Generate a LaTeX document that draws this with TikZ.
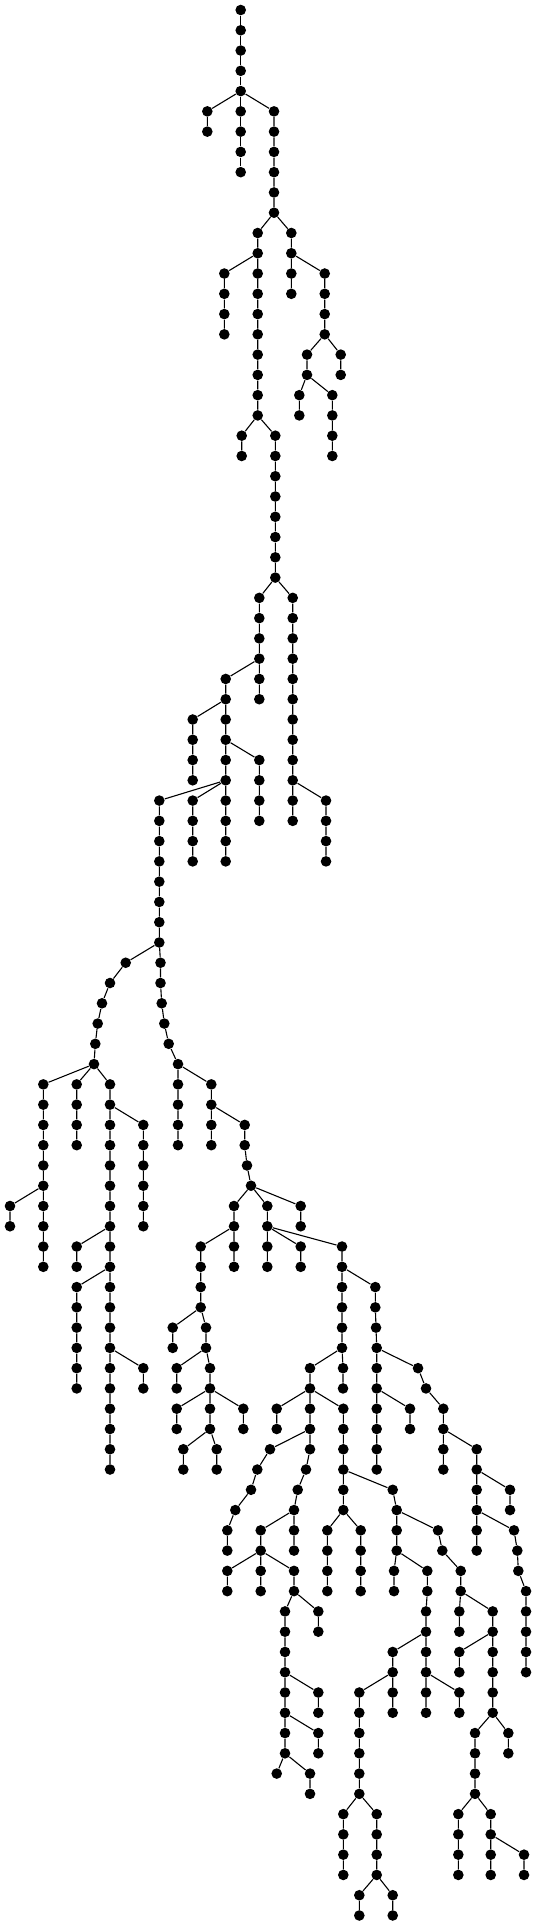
\documentclass[tikz,border=0pt]{standalone}
\usepackage{tikz}
\begin{document}
\begin{tikzpicture}[
  x=0.5pt,y=-10.135pt,
  dot/.style={circle,fill=black,inner sep=0pt,minimum size=5.3pt},
  edge/.style={line width=0.55pt,draw=black}
]
\useasboundingbox (0,-0.4934) rectangle (536,94.47);

\node[dot] (v0-241) at (240.7,0) {};
\node[dot] (v1-241) at (240.7,1) {};
\node[dot] (v2-241) at (240.7,2) {};
\node[dot] (v3-241) at (240.7,3) {};
\node[dot] (v4-241) at (240.7,4) {};
\node[dot] (v5-241) at (240.7,5) {};
\node[dot] (v6-241) at (240.7,6) {};
\node[dot] (v7-241) at (240.7,7) {};
\node[dot] (v8-241) at (240.7,8) {};
\node[dot] (v5-207) at (207.3,5) {};
\node[dot] (v6-207) at (207.3,6) {};
\node[dot] (v5-274) at (274,5) {};
\node[dot] (v6-274) at (274,6) {};
\node[dot] (v7-274) at (274,7) {};
\node[dot] (v8-274) at (274,8) {};
\node[dot] (v9-274) at (274,9) {};
\node[dot] (v10-274) at (274,10) {};
\node[dot] (v11-258) at (257.7,11) {};
\node[dot] (v12-258) at (257.7,12) {};
\node[dot] (v13-258) at (257.7,13) {};
\node[dot] (v14-258) at (257.7,14) {};
\node[dot] (v15-258) at (257.7,15) {};
\node[dot] (v16-258) at (257.7,16) {};
\node[dot] (v17-258) at (257.7,17) {};
\node[dot] (v18-258) at (257.7,18) {};
\node[dot] (v19-258) at (257.7,19) {};
\node[dot] (v20-258) at (257.7,20) {};
\node[dot] (v13-224) at (224.3,13) {};
\node[dot] (v14-224) at (224.3,14) {};
\node[dot] (v15-224) at (224.3,15) {};
\node[dot] (v16-224) at (224.3,16) {};
\node[dot] (v21-242) at (241.7,21) {};
\node[dot] (v22-242) at (241.7,22) {};
\node[dot] (v21-275) at (275.3,21) {};
\node[dot] (v22-275) at (275.3,22) {};
\node[dot] (v23-275) at (275.3,23) {};
\node[dot] (v24-275) at (275.3,24) {};
\node[dot] (v25-275) at (275.3,25) {};
\node[dot] (v26-275) at (275.3,26) {};
\node[dot] (v27-275) at (275.3,27) {};
\node[dot] (v28-275) at (275.3,28) {};
\node[dot] (v29-259) at (259.3,29) {};
\node[dot] (v30-259) at (259.3,30) {};
\node[dot] (v31-259) at (259.3,31) {};
\node[dot] (v32-259) at (259.3,32) {};
\node[dot] (v33-259) at (259.3,33) {};
\node[dot] (v34-259) at (259.3,34) {};
\node[dot] (v33-226) at (225.7,33) {};
\node[dot] (v34-226) at (225.7,34) {};
\node[dot] (v35-226) at (225.7,35) {};
\node[dot] (v36-226) at (225.7,36) {};
\node[dot] (v37-226) at (225.7,37) {};
\node[dot] (v38-226) at (225.7,38) {};
\node[dot] (v39-226) at (225.7,39) {};
\node[dot] (v40-226) at (225.7,40) {};
\node[dot] (v41-226) at (225.7,41) {};
\node[dot] (v42-226) at (225.7,42) {};
\node[dot] (v35-193) at (192.7,35) {};
\node[dot] (v36-193) at (192.7,36) {};
\node[dot] (v37-193) at (192.7,37) {};
\node[dot] (v38-193) at (192.7,38) {};
\node[dot] (v37-259) at (259.3,37) {};
\node[dot] (v38-259) at (259.3,38) {};
\node[dot] (v39-259) at (259.3,39) {};
\node[dot] (v40-259) at (259.3,40) {};
\node[dot] (v39-193) at (192.7,39) {};
\node[dot] (v40-193) at (192.7,40) {};
\node[dot] (v41-193) at (192.7,41) {};
\node[dot] (v42-193) at (192.7,42) {};
\node[dot] (v39-159) at (159.3,39) {};
\node[dot] (v40-159) at (159.3,40) {};
\node[dot] (v41-159) at (159.3,41) {};
\node[dot] (v42-159) at (159.3,42) {};
\node[dot] (v43-159) at (159.3,43) {};
\node[dot] (v44-159) at (159.3,44) {};
\node[dot] (v45-159) at (159.3,45) {};
\node[dot] (v46-159) at (159.3,46) {};
\node[dot] (v29-293) at (292.7,29) {};
\node[dot] (v30-293) at (292.7,30) {};
\node[dot] (v31-293) at (292.7,31) {};
\node[dot] (v32-293) at (292.7,32) {};
\node[dot] (v33-293) at (292.7,33) {};
\node[dot] (v34-293) at (292.7,34) {};
\node[dot] (v35-293) at (292.7,35) {};
\node[dot] (v36-293) at (292.7,36) {};
\node[dot] (v37-293) at (292.7,37) {};
\node[dot] (v38-293) at (292.7,38) {};
\node[dot] (v39-293) at (292.7,39) {};
\node[dot] (v40-293) at (292.7,40) {};
\node[dot] (v39-326) at (326,39) {};
\node[dot] (v40-326) at (326,40) {};
\node[dot] (v41-326) at (326,41) {};
\node[dot] (v42-326) at (326,42) {};
\node[dot] (v11-291) at (291.3,11) {};
\node[dot] (v12-291) at (291.3,12) {};
\node[dot] (v13-291) at (291.3,13) {};
\node[dot] (v14-291) at (291.3,14) {};
\node[dot] (v13-325) at (324.7,13) {};
\node[dot] (v14-325) at (324.7,14) {};
\node[dot] (v15-325) at (324.7,15) {};
\node[dot] (v16-325) at (324.7,16) {};
\node[dot] (v17-341) at (340.7,17) {};
\node[dot] (v18-341) at (340.7,18) {};
\node[dot] (v17-307) at (307,17) {};
\node[dot] (v18-307) at (307,18) {};
\node[dot] (v19-299) at (299.3,19) {};
\node[dot] (v20-299) at (299.3,20) {};
\node[dot] (v19-332) at (332.3,19) {};
\node[dot] (v20-332) at (332.3,20) {};
\node[dot] (v21-332) at (332.3,21) {};
\node[dot] (v22-332) at (332.3,22) {};

\node[dot] (v47-126) at (125.7,47) {};
\node[dot] (v48-110) at (110,48) {};
\node[dot] (v49-102) at (102,49) {};
\node[dot] (v50-98) at (97.7,50) {};
\node[dot] (v51-95) at (95.3,51) {};
\node[dot] (v52-94) at (94,52) {};
\node[dot] (v53-43) at (43.3,53) {};
\node[dot] (v54-43) at (43.3,54) {};
\node[dot] (v55-43) at (43.3,55) {};
\node[dot] (v56-43) at (43.3,56) {};
\node[dot] (v57-43) at (43.3,57) {};
\node[dot] (v58-43) at (43.3,58) {};
\node[dot] (v59-43) at (43.3,59) {};
\node[dot] (v60-43) at (43.3,60) {};
\node[dot] (v61-43) at (43.3,61) {};
\node[dot] (v62-43) at (43.3,62) {};
\node[dot] (v59-10) at (10,59) {};
\node[dot] (v60-10) at (10,60) {};
\node[dot] (v53-77) at (76.7,53) {};
\node[dot] (v54-77) at (76.7,54) {};
\node[dot] (v55-77) at (76.7,55) {};
\node[dot] (v56-77) at (76.7,56) {};
\node[dot] (v53-110) at (110,53) {};
\node[dot] (v54-110) at (110,54) {};
\node[dot] (v55-110) at (110,55) {};
\node[dot] (v56-110) at (110,56) {};
\node[dot] (v57-110) at (110,57) {};
\node[dot] (v58-110) at (110,58) {};
\node[dot] (v59-110) at (110,59) {};
\node[dot] (v60-110) at (110,60) {};
\node[dot] (v61-110) at (110,61) {};
\node[dot] (v62-110) at (110,62) {};
\node[dot] (v63-110) at (110,63) {};
\node[dot] (v64-110) at (110,64) {};
\node[dot] (v65-110) at (110,65) {};
\node[dot] (v66-110) at (110,66) {};
\node[dot] (v67-110) at (110,67) {};
\node[dot] (v68-110) at (110,68) {};
\node[dot] (v69-110) at (110,69) {};
\node[dot] (v70-110) at (110,70) {};
\node[dot] (v71-110) at (110,71) {};
\node[dot] (v72-110) at (110,72) {};
\node[dot] (v55-143) at (143.3,55) {};
\node[dot] (v56-143) at (143.3,56) {};
\node[dot] (v57-143) at (143.3,57) {};
\node[dot] (v58-143) at (143.3,58) {};
\node[dot] (v59-143) at (143.3,59) {};
\node[dot] (v60-143) at (143.3,60) {};
\node[dot] (v61-77) at (76.7,61) {};
\node[dot] (v62-77) at (76.7,62) {};
\node[dot] (v63-77) at (76.7,63) {};
\node[dot] (v64-77) at (76.7,64) {};
\node[dot] (v65-77) at (76.7,65) {};
\node[dot] (v66-77) at (76.7,66) {};
\node[dot] (v67-77) at (76.7,67) {};
\node[dot] (v68-77) at (76.7,68) {};
\node[dot] (v67-143) at (143.3,67) {};
\node[dot] (v68-143) at (143.3,68) {};

\node[dot] (v47-160) at (160.5,47) {};
\node[dot] (v48-160) at (160.5,48) {};
\node[dot] (v49-162) at (161.7,49) {};
\node[dot] (v50-164) at (164.3,50) {};
\node[dot] (v51-169) at (168.7,51) {};
\node[dot] (v52-178) at (178,52) {};
\node[dot] (v53-178) at (178,53) {};
\node[dot] (v54-178) at (178,54) {};
\node[dot] (v55-178) at (178,55) {};
\node[dot] (v56-178) at (178,56) {};
\node[dot] (v53-211) at (211.3,53) {};
\node[dot] (v54-211) at (211.3,54) {};
\node[dot] (v55-211) at (211.3,55) {};
\node[dot] (v56-211) at (211.3,56) {};
\node[dot] (v55-245) at (244.7,55) {};
\node[dot] (v56-245) at (244.7,56) {};
\node[dot] (v57-247) at (247,57) {};
\node[dot] (v58-251) at (251,58) {};
\node[dot] (v59-234) at (234,59) {};
\node[dot] (v60-234) at (234,60) {};
\node[dot] (v61-234) at (234,61) {};
\node[dot] (v62-234) at (234,62) {};
\node[dot] (v59-267) at (267.3,59) {};
\node[dot] (v60-267) at (267.3,60) {};
\node[dot] (v61-267) at (267.3,61) {};
\node[dot] (v62-267) at (267.3,62) {};
\node[dot] (v59-301) at (300.7,59) {};
\node[dot] (v60-301) at (300.7,60) {};
\node[dot] (v61-301) at (300.7,61) {};
\node[dot] (v62-301) at (300.7,62) {};
\node[dot] (v61-201) at (200.7,61) {};
\node[dot] (v62-201) at (200.7,62) {};
\node[dot] (v63-201) at (200.7,63) {};
\node[dot] (v64-201) at (200.7,64) {};
\node[dot] (v65-173) at (172.7,65) {};
\node[dot] (v66-173) at (172.7,66) {};
\node[dot] (v65-206) at (206,65) {};
\node[dot] (v66-206) at (206,66) {};
\node[dot] (v67-177) at (176.7,67) {};
\node[dot] (v68-177) at (176.7,68) {};
\node[dot] (v67-210) at (210,67) {};
\node[dot] (v68-210) at (210,68) {};
\node[dot] (v69-210) at (210,69) {};
\node[dot] (v70-210) at (210,70) {};
\node[dot] (v69-177) at (176.7,69) {};
\node[dot] (v70-177) at (176.7,70) {};
\node[dot] (v69-243) at (243.3,69) {};
\node[dot] (v70-243) at (243.3,70) {};
\node[dot] (v71-183) at (183.3,71) {};
\node[dot] (v72-183) at (183.3,72) {};
\node[dot] (v71-217) at (216.7,71) {};
\node[dot] (v72-217) at (216.7,72) {};

\node[dot] (v61-342) at (342,61) {};
\node[dot] (v62-342) at (342,62) {};
\node[dot] (v63-342) at (342,63) {};
\node[dot] (v64-342) at (342,64) {};
\node[dot] (v65-342) at (342,65) {};
\node[dot] (v66-342) at (342,66) {};
\node[dot] (v67-343) at (343,67) {};
\node[dot] (v68-343) at (343,68) {};
\node[dot] (v67-310) at (310,67) {};
\node[dot] (v68-310) at (310,68) {};
\node[dot] (v69-310) at (310,69) {};
\node[dot] (v70-310) at (310,70) {};
\node[dot] (v71-310) at (310,71) {};
\node[dot] (v69-277) at (276.7,69) {};
\node[dot] (v70-277) at (276.7,70) {};
\node[dot] (v69-343) at (343.3,69) {};
\node[dot] (v70-343) at (343.3,70) {};
\node[dot] (v71-343) at (343.3,71) {};
\node[dot] (v72-343) at (343.3,72) {};
\node[dot] (v73-343) at (343.3,73) {};
\node[dot] (v74-343) at (343.3,74) {};
\node[dot] (v71-270) at (270,71) {};
\node[dot] (v72-257) at (257.3,72) {};
\node[dot] (v73-251) at (251,73) {};
\node[dot] (v74-235) at (235.3,74) {};
\node[dot] (v75-227) at (227.3,75) {};
\node[dot] (v76-227) at (227.3,76) {};
\node[dot] (v72-306) at (306,72) {};
\node[dot] (v73-298) at (297.7,73) {};
\node[dot] (v74-294) at (294,74) {};
\node[dot] (v75-294) at (294,75) {};
\node[dot] (v76-294) at (294,76) {};
\node[dot] (v75-261) at (260.7,75) {};
\node[dot] (v76-261) at (260.7,76) {};
\node[dot] (v77-261) at (260.7,77) {};
\node[dot] (v78-261) at (260.7,78) {};
\node[dot] (v77-227) at (227.3,77) {};
\node[dot] (v78-227) at (227.3,78) {};
\node[dot] (v77-294) at (294,77) {};
\node[dot] (v78-294) at (294,78) {};
\node[dot] (v79-285) at (285,79) {};
\node[dot] (v80-285) at (285,80) {};
\node[dot] (v81-285) at (285,81) {};
\node[dot] (v82-285) at (285,82) {};
\node[dot] (v83-285) at (285,83) {};
\node[dot] (v84-285) at (285,84) {};
\node[dot] (v85-285) at (285,85) {};
\node[dot] (v86-285) at (285,86) {};
\node[dot] (v79-318) at (318.3,79) {};
\node[dot] (v80-318) at (318.3,80) {};
\node[dot] (v83-318) at (318.3,83) {};
\node[dot] (v84-318) at (318.3,84) {};
\node[dot] (v85-318) at (318.3,85) {};
\node[dot] (v86-318) at (318.3,86) {};
\node[dot] (v87-277) at (276.7,87) {};
\node[dot] (v87-310) at (310,87) {};
\node[dot] (v88-310) at (310,88) {};
\node[dot] (v75-327) at (327.3,75) {};
\node[dot] (v76-327) at (327.3,76) {};
\node[dot] (v77-327) at (327.3,77) {};
\node[dot] (v78-327) at (327.3,78) {};
\node[dot] (v75-361) at (360.7,75) {};
\node[dot] (v76-361) at (360.7,76) {};
\node[dot] (v77-361) at (360.7,77) {};
\node[dot] (v78-361) at (360.7,78) {};
\node[dot] (v73-393) at (392.7,73) {};
\node[dot] (v74-397) at (396.7,74) {};
\node[dot] (v75-397) at (396.7,75) {};
\node[dot] (v76-397) at (396.7,76) {};
\node[dot] (v77-394) at (394,77) {};
\node[dot] (v78-394) at (394,78) {};
\node[dot] (v77-427) at (427.3,77) {};
\node[dot] (v78-427) at (427.3,78) {};
\node[dot] (v79-426) at (426,79) {};
\node[dot] (v80-426) at (426,80) {};
\node[dot] (v81-426) at (426,81) {};
\node[dot] (v82-426) at (426,82) {};
\node[dot] (v83-426) at (426,83) {};
\node[dot] (v84-426) at (426,84) {};
\node[dot] (v81-393) at (392.7,81) {};
\node[dot] (v82-393) at (392.7,82) {};
\node[dot] (v83-393) at (392.7,83) {};
\node[dot] (v84-393) at (392.7,84) {};
\node[dot] (v83-459) at (459.3,83) {};
\node[dot] (v84-459) at (459.3,84) {};
\node[dot] (v83-359) at (359.3,83) {};
\node[dot] (v84-359) at (359.3,84) {};
\node[dot] (v85-359) at (359.3,85) {};
\node[dot] (v86-359) at (359.3,86) {};
\node[dot] (v87-359) at (359.3,87) {};
\node[dot] (v88-359) at (359.3,88) {};
\node[dot] (v89-343) at (343.3,89) {};
\node[dot] (v90-343) at (343.3,90) {};
\node[dot] (v91-343) at (343.3,91) {};
\node[dot] (v92-343) at (343.3,92) {};
\node[dot] (v89-377) at (376.7,89) {};
\node[dot] (v90-377) at (376.7,90) {};
\node[dot] (v91-377) at (376.7,91) {};
\node[dot] (v92-377) at (376.7,92) {};
\node[dot] (v93-359) at (359.3,93) {};
\node[dot] (v94-359) at (359.3,94) {};
\node[dot] (v93-393) at (392.7,93) {};
\node[dot] (v94-393) at (392.7,94) {};
\node[dot] (v75-438) at (438,75) {};
\node[dot] (v76-442) at (442.3,76) {};
\node[dot] (v77-461) at (460.7,77) {};
\node[dot] (v78-461) at (460.7,78) {};
\node[dot] (v79-459) at (459.3,79) {};
\node[dot] (v80-459) at (459.3,80) {};
\node[dot] (v79-493) at (492.7,79) {};
\node[dot] (v80-493) at (492.7,80) {};
\node[dot] (v81-493) at (492.7,81) {};
\node[dot] (v82-493) at (492.7,82) {};
\node[dot] (v83-493) at (492.7,83) {};
\node[dot] (v84-493) at (492.7,84) {};
\node[dot] (v81-459) at (459.3,81) {};
\node[dot] (v82-459) at (459.3,82) {};
\node[dot] (v85-475) at (475,85) {};
\node[dot] (v86-475) at (475,86) {};
\node[dot] (v87-475) at (475,87) {};
\node[dot] (v88-475) at (475,88) {};
\node[dot] (v85-508) at (508.3,85) {};
\node[dot] (v86-508) at (508.3,86) {};
\node[dot] (v89-458) at (458.3,89) {};
\node[dot] (v90-458) at (458.3,90) {};
\node[dot] (v91-458) at (458.3,91) {};
\node[dot] (v92-458) at (458.3,92) {};
\node[dot] (v89-491) at (490.7,89) {};
\node[dot] (v90-491) at (490.7,90) {};
\node[dot] (v91-491) at (490.7,91) {};
\node[dot] (v92-491) at (490.7,92) {};
\node[dot] (v91-524) at (524,91) {};
\node[dot] (v92-524) at (524,92) {};

\node[dot] (v63-375) at (375.3,63) {};
\node[dot] (v64-375) at (375.3,64) {};
\node[dot] (v65-376) at (376,65) {};
\node[dot] (v66-377) at (376.7,66) {};
\node[dot] (v67-377) at (376.7,67) {};
\node[dot] (v68-377) at (376.7,68) {};
\node[dot] (v69-377) at (376.7,69) {};
\node[dot] (v70-377) at (376.7,70) {};
\node[dot] (v71-377) at (376.7,71) {};
\node[dot] (v72-377) at (376.7,72) {};
\node[dot] (v69-410) at (410,69) {};
\node[dot] (v70-410) at (410,70) {};
\node[dot] (v67-418) at (418,67) {};
\node[dot] (v68-426) at (426,68) {};
\node[dot] (v69-443) at (443.3,69) {};
\node[dot] (v70-443) at (443.3,70) {};
\node[dot] (v71-443) at (443.3,71) {};
\node[dot] (v72-443) at (443.3,72) {};
\node[dot] (v71-477) at (476.7,71) {};
\node[dot] (v72-477) at (476.7,72) {};
\node[dot] (v73-477) at (476.7,73) {};
\node[dot] (v74-477) at (476.7,74) {};
\node[dot] (v75-477) at (476.7,75) {};
\node[dot] (v76-477) at (476.7,76) {};
\node[dot] (v73-510) at (510,73) {};
\node[dot] (v74-510) at (510,74) {};
\node[dot] (v75-514) at (514,75) {};
\node[dot] (v76-517) at (517.3,76) {};
\node[dot] (v77-518) at (518.3,77) {};
\node[dot] (v78-526) at (526,78) {};
\node[dot] (v79-526) at (526,79) {};
\node[dot] (v80-526) at (526,80) {};
\node[dot] (v81-526) at (526,81) {};
\node[dot] (v82-526) at (526,82) {};

\draw[edge] (v0-241) -- (v1-241) -- (v2-241) -- (v3-241) -- (v4-241) -- (v5-241) -- (v6-241) -- (v7-241) -- (v8-241);
\draw[edge] (v4-241) -- (v5-207) -- (v6-207);
\draw[edge] (v4-241) -- (v5-274) -- (v6-274) -- (v7-274) -- (v8-274) -- (v9-274) -- (v10-274);
\draw[edge] (v10-274) -- (v11-258) -- (v12-258) -- (v13-258) -- (v14-258) -- (v15-258) -- (v16-258) -- (v17-258) -- (v18-258) -- (v19-258) -- (v20-258);
\draw[edge] (v12-258) -- (v13-224) -- (v14-224) -- (v15-224) -- (v16-224);
\draw[edge] (v20-258) -- (v21-242) -- (v22-242);
\draw[edge] (v20-258) -- (v21-275) -- (v22-275) -- (v23-275) -- (v24-275) -- (v25-275) -- (v26-275) -- (v27-275) -- (v28-275);
\draw[edge] (v28-275) -- (v29-259) -- (v30-259) -- (v31-259) -- (v32-259) -- (v33-259) -- (v34-259);
\draw[edge] (v32-259) -- (v33-226) -- (v34-226) -- (v35-226) -- (v36-226) -- (v37-226) -- (v38-226) -- (v39-226) -- (v40-226) -- (v41-226) -- (v42-226);
\draw[edge] (v34-226) -- (v35-193) -- (v36-193) -- (v37-193) -- (v38-193);
\draw[edge] (v36-226) -- (v37-259) -- (v38-259) -- (v39-259) -- (v40-259);
\draw[edge] (v38-226) -- (v39-193) -- (v40-193) -- (v41-193) -- (v42-193);
\draw[edge] (v38-226) -- (v39-159) -- (v40-159) -- (v41-159) -- (v42-159) -- (v43-159) -- (v44-159) -- (v45-159) -- (v46-159);
\draw[edge] (v28-275) -- (v29-293) -- (v30-293) -- (v31-293) -- (v32-293) -- (v33-293) -- (v34-293) -- (v35-293) -- (v36-293) -- (v37-293) -- (v38-293) -- (v39-293) -- (v40-293);
\draw[edge] (v38-293) -- (v39-326) -- (v40-326) -- (v41-326) -- (v42-326);
\draw[edge] (v10-274) -- (v11-291) -- (v12-291) -- (v13-291) -- (v14-291);
\draw[edge] (v12-291) -- (v13-325) -- (v14-325) -- (v15-325) -- (v16-325);
\draw[edge] (v16-325) -- (v17-341) -- (v18-341);
\draw[edge] (v16-325) -- (v17-307) -- (v18-307) -- (v19-332) -- (v20-332) -- (v21-332) -- (v22-332);
\draw[edge] (v18-307) -- (v19-299) -- (v20-299);

\draw[edge] (v46-159) -- (v47-126) -- (v48-110) -- (v49-102) -- (v50-98) -- (v51-95) -- (v52-94) -- (v53-110) -- (v54-110) -- (v55-110) -- (v56-110) -- (v57-110) -- (v58-110) -- (v59-110) -- (v60-110) -- (v61-110) -- (v62-110) -- (v63-110) -- (v64-110) -- (v65-110) -- (v66-110) -- (v67-110) -- (v68-110) -- (v69-110) -- (v70-110) -- (v71-110) -- (v72-110);
\draw[edge] (v52-94) -- (v53-43) -- (v54-43) -- (v55-43) -- (v56-43) -- (v57-43) -- (v58-43) -- (v59-43) -- (v60-43) -- (v61-43) -- (v62-43);
\draw[edge] (v58-43) -- (v59-10) -- (v60-10);
\draw[edge] (v52-94) -- (v53-77) -- (v54-77) -- (v55-77) -- (v56-77);
\draw[edge] (v54-110) -- (v55-143) -- (v56-143) -- (v57-143) -- (v58-143) -- (v59-143) -- (v60-143);
\draw[edge] (v60-110) -- (v61-77) -- (v62-77);
\draw[edge] (v62-110) -- (v63-77) -- (v64-77) -- (v65-77) -- (v66-77) -- (v67-77) -- (v68-77);
\draw[edge] (v66-110) -- (v67-143) -- (v68-143);

\draw[edge] (v46-159) -- (v47-160) -- (v48-160) -- (v49-162) -- (v50-164) -- (v51-169) -- (v52-178) -- (v53-178) -- (v54-178) -- (v55-178) -- (v56-178);
\draw[edge] (v52-178) -- (v53-211) -- (v54-211) -- (v55-211) -- (v56-211);
\draw[edge] (v54-211) -- (v55-245) -- (v56-245) -- (v57-247) -- (v58-251) -- (v59-267) -- (v60-267) -- (v61-267) -- (v62-267);
\draw[edge] (v58-251) -- (v59-234) -- (v60-234) -- (v61-234) -- (v62-234);
\draw[edge] (v58-251) -- (v59-301) -- (v60-301);
\draw[edge] (v60-234) -- (v61-201) -- (v62-201) -- (v63-201) -- (v64-201) -- (v65-206) -- (v66-206) -- (v67-210) -- (v68-210) -- (v69-210) -- (v70-210);
\draw[edge] (v64-201) -- (v65-173) -- (v66-173);
\draw[edge] (v66-206) -- (v67-177) -- (v68-177);
\draw[edge] (v68-210) -- (v69-177) -- (v70-177);
\draw[edge] (v68-210) -- (v69-243) -- (v70-243);
\draw[edge] (v70-210) -- (v71-183) -- (v72-183);
\draw[edge] (v70-210) -- (v71-217) -- (v72-217);
\draw[edge] (v60-267) -- (v61-301) -- (v62-301);
\draw[edge] (v60-267) -- (v61-342) -- (v62-342) -- (v63-342) -- (v64-342) -- (v65-342) -- (v66-342);
\draw[edge] (v66-342) -- (v67-343) -- (v68-343);
\draw[edge] (v66-342) -- (v67-310) -- (v68-310) -- (v69-310) -- (v70-310) -- (v71-310) -- (v72-306) -- (v73-298) -- (v74-294) -- (v75-294) -- (v76-294);
\draw[edge] (v68-310) -- (v69-277) -- (v70-277);
\draw[edge] (v68-310) -- (v69-343) -- (v70-343) -- (v71-343) -- (v72-343) -- (v73-343) -- (v74-343);
\draw[edge] (v70-310) -- (v71-270) -- (v72-257) -- (v73-251) -- (v74-235) -- (v75-227) -- (v76-227);
\draw[edge] (v74-294) -- (v75-261) -- (v76-261) -- (v77-261) -- (v78-261);
\draw[edge] (v76-261) -- (v77-227) -- (v78-227);
\draw[edge] (v76-261) -- (v77-294) -- (v78-294) -- (v79-285) -- (v80-285) -- (v81-285) -- (v82-285) -- (v83-285) -- (v84-285) -- (v85-285) -- (v86-285);
\draw[edge] (v78-294) -- (v79-318) -- (v80-318);
\draw[edge] (v82-285) -- (v83-318) -- (v84-318);
\draw[edge] (v84-285) -- (v85-318) -- (v86-318);
\draw[edge] (v86-285) -- (v87-277);
\draw[edge] (v86-285) -- (v87-310) -- (v88-310);
\draw[edge] (v74-343) -- (v75-327) -- (v76-327) -- (v77-327) -- (v78-327);
\draw[edge] (v74-343) -- (v75-361) -- (v76-361) -- (v77-361) -- (v78-361);
\draw[edge] (v72-343) -- (v73-393) -- (v74-397) -- (v75-397) -- (v76-397) -- (v77-427) -- (v78-427) -- (v79-426) -- (v80-426) -- (v81-426) -- (v82-426) -- (v83-426) -- (v84-426);
\draw[edge] (v76-397) -- (v77-394) -- (v78-394);
\draw[edge] (v80-426) -- (v81-393) -- (v82-393) -- (v83-393) -- (v84-393);
\draw[edge] (v82-393) -- (v83-359) -- (v84-359) -- (v85-359) -- (v86-359) -- (v87-359) -- (v88-359) -- (v89-377) -- (v90-377) -- (v91-377) -- (v92-377);
\draw[edge] (v88-359) -- (v89-343) -- (v90-343) -- (v91-343) -- (v92-343);
\draw[edge] (v92-377) -- (v93-359) -- (v94-359);
\draw[edge] (v92-377) -- (v93-393) -- (v94-393);
\draw[edge] (v82-426) -- (v83-459) -- (v84-459);
\draw[edge] (v74-397) -- (v75-438) -- (v76-442) -- (v77-461) -- (v78-461) -- (v79-493) -- (v80-493) -- (v81-493) -- (v82-493) -- (v83-493) -- (v84-493);
\draw[edge] (v78-461) -- (v79-459) -- (v80-459);
\draw[edge] (v80-493) -- (v81-459) -- (v82-459);
\draw[edge] (v84-493) -- (v85-475) -- (v86-475) -- (v87-475) -- (v88-475) -- (v89-491) -- (v90-491) -- (v91-491) -- (v92-491);
\draw[edge] (v84-493) -- (v85-508) -- (v86-508);
\draw[edge] (v88-475) -- (v89-458) -- (v90-458) -- (v91-458) -- (v92-458);
\draw[edge] (v90-491) -- (v91-524) -- (v92-524);
\draw[edge] (v62-342) -- (v63-375) -- (v64-375) -- (v65-376) -- (v66-377) -- (v67-377) -- (v68-377) -- (v69-377) -- (v70-377) -- (v71-377) -- (v72-377);
\draw[edge] (v68-377) -- (v69-410) -- (v70-410);
\draw[edge] (v66-377) -- (v67-418) -- (v68-426) -- (v69-443) -- (v70-443) -- (v71-443) -- (v72-443);
\draw[edge] (v70-443) -- (v71-477) -- (v72-477) -- (v73-477) -- (v74-477) -- (v75-477) -- (v76-477);
\draw[edge] (v72-477) -- (v73-510) -- (v74-510);
\draw[edge] (v74-477) -- (v75-514) -- (v76-517) -- (v77-518) -- (v78-526) -- (v79-526) -- (v80-526) -- (v81-526) -- (v82-526);

\end{tikzpicture}
\end{document}
